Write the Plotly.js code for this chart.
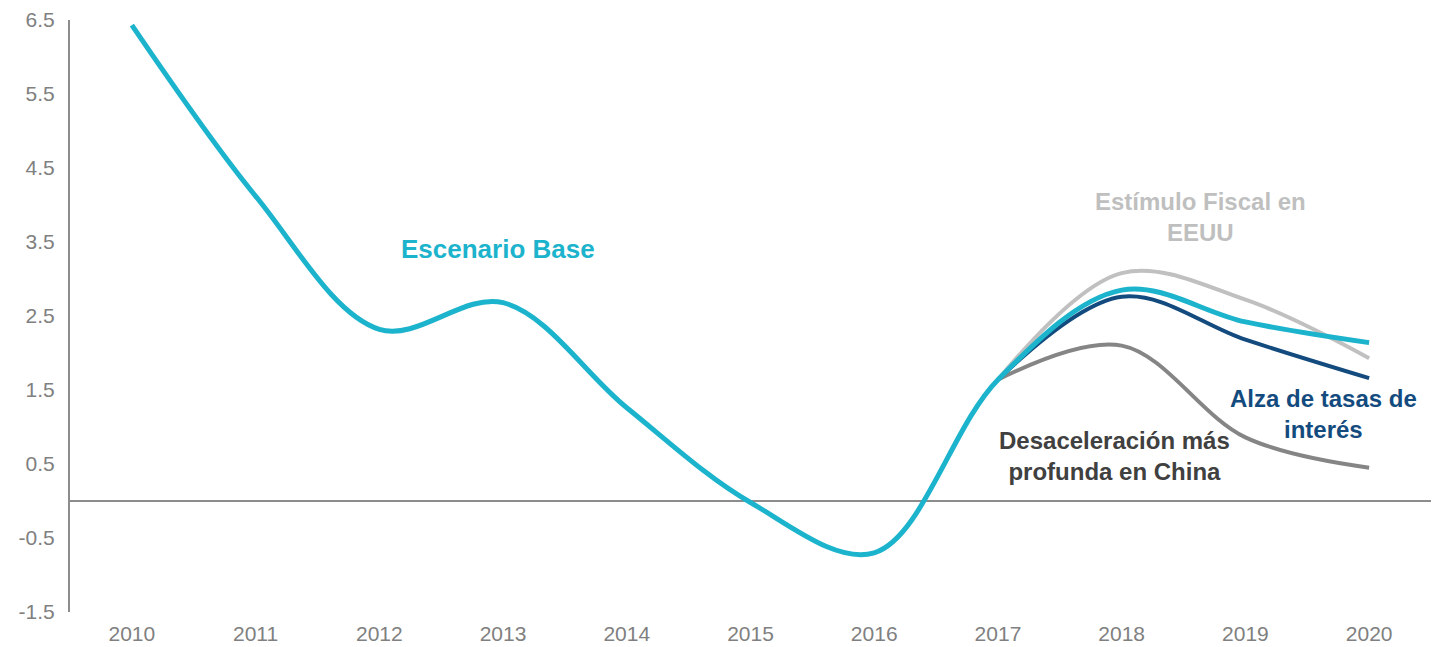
<!DOCTYPE html>
<html>
<head>
<meta charset="utf-8">
<script src="https://cdn.plot.ly/plotly-3.0.1.min.js"></script>
<style>html,body{margin:0;padding:0;background:#fff;}#chart{width:1447px;height:647px;}</style>
</head>
<body>
<div id="chart"></div>
<script>
const years = [2010, 2011, 2012, 2013, 2014, 2015, 2016, 2017, 2018, 2019, 2020];
const baseValues = [6.43, 4.12, 2.32, 2.68, 1.26, -0.02, -0.7, 1.64, 2.85, 2.42, 2.14];
const scenarioYears = [2017, 2018, 2019, 2020];
const fiscalValues = [1.64, 3.08, 2.72, 1.93];
const ratesValues = [1.64, 2.76, 2.18, 1.66];
const chinaValues = [1.64, 2.1, 0.86, 0.45];
const yTicks = [-1.5, -0.5, 0.5, 1.5, 2.5, 3.5, 4.5, 5.5, 6.5];

const labels = {
  base: "Escenario Base",
  fiscal: "Estímulo Fiscal en<br>EEUU",
  rates: "Alza de tasas de<br>interés",
  china: "Desaceleración más<br>profunda en China"
};

const colors = {base: "#1cb3cc", fiscal: "#c0c0c0", rates: "#144b7e", china: "#858585"};

function line(x, y, color, width) {
  return {x: x, y: y, type: "scatter", mode: "lines",
    line: {color: color, width: width, shape: "spline", smoothing: 1},
    hoverinfo: "skip", showlegend: false};
}

const data = [
  line(scenarioYears, chinaValues, colors.china, 4),
  line(scenarioYears, ratesValues, colors.rates, 4),
  line(scenarioYears, fiscalValues, colors.fiscal, 4),
  line(years, baseValues, colors.base, 5)
];

const labelFont = (c, s) => ({family: "Liberation Sans, Arial, sans-serif", size: s, color: c, weight: "bold"});

const layout = {
  width: 1447, height: 647,
  margin: {l: 70, r: 16, t: 20, b: 35},
  paper_bgcolor: "#fff", plot_bgcolor: "#fff",
  font: {family: "Liberation Sans, Arial, sans-serif", color: "#808080", size: 21},
  xaxis: {
    range: [2009.5, 2020.5], tickmode: "array", tickvals: years, ticktext: years.map(String),
    showgrid: false, zeroline: false, showline: false, ticks: "",
    ticklabelstandoff: 7,
    tickfont: {size: 21, color: "#808080"}
  },
  yaxis: {
    range: [-1.5, 6.5], tickmode: "array", tickvals: yTicks, ticktext: yTicks.map(v => v.toFixed(1)),
    showgrid: false, zeroline: true, zerolinecolor: "#8c8c8c", zerolinewidth: 2,
    showline: true, linecolor: "#8c8c8c", linewidth: 2, ticks: "",
    ticklabelstandoff: 9,
    tickfont: {size: 21, color: "#808080"}
  },
  annotations: [
    {x: 2012.96, y: 3.41, text: "<b>" + labels.base + "</b>", showarrow: false, xanchor: "center", yanchor: "middle", font: labelFont(colors.base, 26)},
    {x: 2018.64, y: 3.84, text: "<b>" + labels.fiscal + "</b>", showarrow: false, xanchor: "center", yanchor: "middle", font: labelFont("#bfbfbf", 24)},
    {x: 2019.63, y: 1.18, text: "<b>" + labels.rates + "</b>", showarrow: false, xanchor: "center", yanchor: "middle", font: labelFont(colors.rates, 24)},
    {x: 2017.94, y: 0.61, text: "<b>" + labels.china + "</b>", showarrow: false, xanchor: "center", yanchor: "middle", font: labelFont("#404040", 24)}
  ]
};

Plotly.newPlot("chart", data, layout, {displayModeBar: false, staticPlot: true});
</script>
</body>
</html>
